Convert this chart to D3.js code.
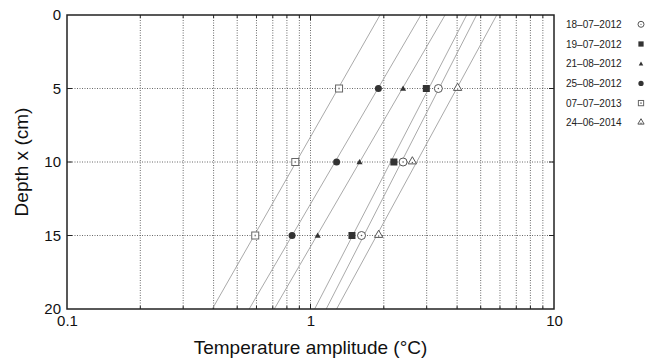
<!DOCTYPE html>
<html>
<head>
<meta charset="utf-8">
<script src="https://cdn.jsdelivr.net/npm/d3@7"></script>
<style>
  body { margin: 0; background: #fff; }
  svg { font-family: "Liberation Sans", Arial, sans-serif; }
</style>
</head>
<body>
<div id="chart"></div>
<script>
// data
const dates = ["18–07–2012", "19–07–2012", "21–08–2012", "25–08–2012", "07–07–2013", "24–06–2014"];
const depths = [5, 10, 15];
const amp180712 = [3.35, 2.40, 1.62];
const amp190712 = [2.99, 2.20, 1.48];
const amp210812 = [2.40, 1.59, 1.07];
const amp250812 = [1.90, 1.28, 0.84];
const amp070713 = [1.31, 0.866, 0.593];
const amp240614 = [4.02, 2.62, 1.905];
// fitted lines: amplitude at depth 0 and depth 20
const fitDepths = [0, 20];
const fit180712 = [4.81, 1.16];
const fit190712 = [4.38, 1.04];
const fit210812 = [3.57, 0.71];
const fit250812 = [2.84, 0.56];
const fit070713 = [1.93, 0.395];
const fit240614 = [5.82, 1.28];
const xTickLabels = [0.1, 1, 10];
const yTickLabels = [0, 5, 10, 15, 20];

const series = [
  {name: dates[0], amp: amp180712, fit: fit180712, sym: "circleOpen"},
  {name: dates[1], amp: amp190712, fit: fit190712, sym: "squareFill"},
  {name: dates[2], amp: amp210812, fit: fit210812, sym: "triFill"},
  {name: dates[3], amp: amp250812, fit: fit250812, sym: "circleFill"},
  {name: dates[4], amp: amp070713, fit: fit070713, sym: "squareOpen"},
  {name: dates[5], amp: amp240614, fit: fit240614, sym: "triOpen"}
];

const width = 649, height = 362;
const margin = {top: 15, right: 95, bottom: 53, left: 67};

const svg = d3.select("#chart").append("svg")
    .attr("width", width)
    .attr("height", height);

const x = d3.scaleLog()
    .domain([0.1, 10])
    .range([margin.left, width - margin.right]);

const y = d3.scaleLinear()
    .domain([0, 20])
    .range([margin.top, height - margin.bottom]);

const grid = svg.append("g")
    .attr("stroke", "#444")
    .attr("stroke-width", 0.8)
    .attr("stroke-dasharray", "1,1.5");

grid.selectAll("line.v")
  .data(x.ticks().filter(d => d > 0.1 && d < 10))
  .join("line")
    .attr("class", "v")
    .attr("x1", d => x(d)).attr("x2", d => x(d))
    .attr("y1", y(0)).attr("y2", y(20));

grid.selectAll("line.h")
  .data([5, 10, 15])
  .join("line")
    .attr("class", "h")
    .attr("x1", x(0.1)).attr("x2", x(10))
    .attr("y1", d => y(d)).attr("y2", d => y(d));

// small inner ticks
const ticks = svg.append("g").attr("stroke", "#222").attr("stroke-width", 1);
x.ticks().filter(d => d > 0.1 && d < 10).forEach(d => {
  const len = Math.abs(Math.log10(d) % 1) < 1e-9 ? 5 : 3;
  ticks.append("line").attr("x1", x(d)).attr("x2", x(d)).attr("y1", y(0)).attr("y2", y(0) + len);
  ticks.append("line").attr("x1", x(d)).attr("x2", x(d)).attr("y1", y(20)).attr("y2", y(20) - len);
});
[5, 10, 15].forEach(d => {
  ticks.append("line").attr("x1", x(0.1)).attr("x2", x(0.1) + 5).attr("y1", y(d)).attr("y2", y(d));
  ticks.append("line").attr("x1", x(10)).attr("x2", x(10) - 5).attr("y1", y(d)).attr("y2", y(d));
});

svg.append("defs").append("clipPath").attr("id", "clip")
  .append("rect")
    .attr("x", x(0.1)).attr("y", y(0))
    .attr("width", x(10) - x(0.1)).attr("height", y(20) - y(0));

const line = d3.line()
    .x(d => x(d[1]))
    .y(d => y(d[0]));

svg.append("g")
    .attr("clip-path", "url(#clip)")
  .selectAll("path")
  .data(series)
  .join("path")
    .attr("fill", "none")
    .attr("stroke", "#aaa")
    .attr("stroke-width", 1)
    .attr("d", s => line(fitDepths.map((dp, i) => [dp, s.fit[i]])));

function drawMarker(g, sym, cx, cy, k) {
  k = k || 1;
  if (sym === "circleOpen") {
    g.append("circle").attr("cx", cx).attr("cy", cy).attr("r", 4 * k)
      .attr("fill", "#fff").attr("stroke", "#555").attr("stroke-width", 1);
    g.append("circle").attr("cx", cx).attr("cy", cy).attr("r", 0.8 * k).attr("fill", "#555");
  } else if (sym === "squareFill") {
    g.append("rect").attr("x", cx - 3.5 * k).attr("y", cy - 3.5 * k)
      .attr("width", 7 * k).attr("height", 7 * k).attr("fill", "#333");
  } else if (sym === "triFill") {
    g.append("path").attr("transform", `translate(${cx},${cy + 0.5})`)
      .attr("d", d3.symbol(d3.symbolTriangle, 16 * k * k)()).attr("fill", "#333");
  } else if (sym === "circleFill") {
    g.append("circle").attr("cx", cx).attr("cy", cy).attr("r", 3.5 * k).attr("fill", "#333");
  } else if (sym === "squareOpen") {
    g.append("rect").attr("x", cx - 3.5 * k).attr("y", cy - 3.5 * k)
      .attr("width", 7 * k).attr("height", 7 * k)
      .attr("fill", "#fff").attr("stroke", "#666").attr("stroke-width", 1);
    g.append("rect").attr("x", cx - 0.8).attr("y", cy - 0.8)
      .attr("width", 1.6).attr("height", 1.6).attr("fill", "#888");
  } else if (sym === "triOpen") {
    g.append("path").attr("transform", `translate(${cx},${cy - 0.5})`)
      .attr("d", d3.symbol(d3.symbolTriangle, 30 * k * k)())
      .attr("fill", "#fff").attr("stroke", "#555").attr("stroke-width", 1);
    g.append("circle").attr("cx", cx).attr("cy", cy + 0.5).attr("r", 0.7).attr("fill", "#555");
  }
}

const marks = svg.append("g");
series.forEach(s => {
  s.amp.forEach((a, i) => drawMarker(marks, s.sym, x(a), y(depths[i])));
});

// frame
svg.append("rect")
    .attr("x", x(0.1)).attr("y", y(0))
    .attr("width", x(10) - x(0.1)).attr("height", y(20) - y(0))
    .attr("fill", "none")
    .attr("stroke", "#222")
    .attr("stroke-width", 1.5);

// axes
const xAxis = svg.append("g")
    .attr("transform", `translate(0,${y(20)})`)
    .call(d3.axisBottom(x).tickValues(xTickLabels).tickSize(0).tickPadding(6).tickFormat(d3.format("")))
    .call(g => g.select(".domain").remove());
xAxis.selectAll("text").attr("font-size", 15).attr("fill", "#111").attr("font-family", "Liberation Sans, Arial, sans-serif");

const yAxis = svg.append("g")
    .attr("transform", `translate(${x(0.1)},0)`)
    .call(d3.axisLeft(y).tickValues(yTickLabels).tickSize(0).tickPadding(6))
    .call(g => g.select(".domain").remove());
yAxis.selectAll("text").attr("font-size", 15).attr("fill", "#111").attr("font-family", "Liberation Sans, Arial, sans-serif");

svg.append("text")
    .attr("x", (x(0.1) + x(10)) / 2)
    .attr("y", 354)
    .attr("text-anchor", "middle")
    .attr("font-size", 19)
    .attr("fill", "#111")
    .text("Temperature amplitude (°C)");

svg.append("text")
    .attr("transform", `translate(28,${(y(0) + y(20)) / 2}) rotate(-90)`)
    .attr("text-anchor", "middle")
    .attr("font-size", 19)
    .attr("fill", "#111")
    .text("Depth x (cm)");

// legend
const legend = svg.append("g");
series.forEach((s, i) => {
  const ly = 24.3 + i * 19.7;
  legend.append("text")
      .attr("x", 566).attr("y", ly + 3.6)
      .attr("font-size", 10)
      .attr("fill", "#222")
      .text(s.name);
  drawMarker(legend, s.sym, 641, ly, 0.75);
});
</script>
</body>
</html>
